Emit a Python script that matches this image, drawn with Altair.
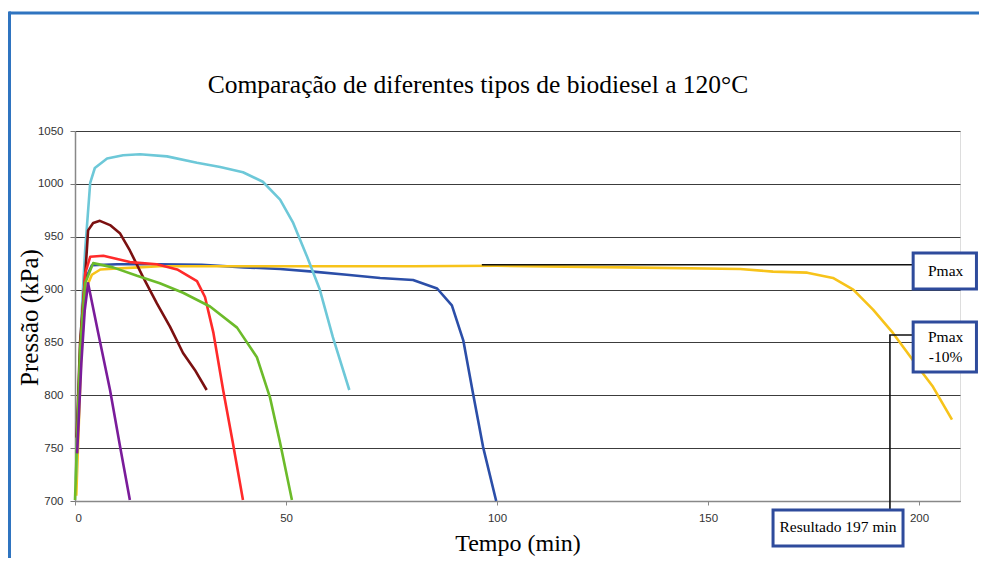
import altair as alt
import pandas as pd

# ---- series (time in min, pressure in kPa) ----
cyan_t = [0.2, 0.8, 1.6, 2.4, 3.6, 4.7, 7.6, 11.4, 15.4, 21.8, 28.9, 34.4, 39.8, 44.5, 48.6, 51.7, 55.0, 58.0, 61.1, 65.0]
cyan_p = [720, 790, 880, 937, 1001, 1015, 1024, 1027, 1028, 1026, 1020, 1016, 1011, 1002, 985, 963, 931, 900, 855, 805]

maroon_t = [0.4, 1.2, 2.4, 3.1, 4.3, 5.9, 8.3, 10.7, 13.0, 16.1, 19.4, 22.5, 25.6, 28.4, 31.2]
maroon_p = [760, 850, 912, 956, 963, 965, 961, 953, 937, 912, 887, 865, 840, 824, 805]

red_t = [0.6, 1.5, 2.4, 3.6, 6.7, 10.0, 13.0, 19.4, 24.2, 28.9, 30.8, 32.8, 35.1, 37.4, 39.8]
red_p = [760, 860, 915, 931, 932, 929, 926, 924, 919, 908, 893, 859, 805, 755, 701]

blue_t = [0.5, 1.5, 2.5, 4.0, 10.0, 20.0, 30.0, 40.0, 48.6, 56.4, 64.4, 72.3, 80.1, 85.8, 89.3, 92.0, 94.3, 96.7, 99.8]
blue_p = [760, 860, 910, 923, 924, 924, 923.5, 921, 919.5, 917, 914, 911, 909, 901, 885, 852, 802, 751, 700]

yellow_t = [0.3, 1.5, 2.5, 4.0, 6.0, 10.0, 15.0, 20.0, 40.0, 80.0, 100.0, 130.0, 157.6, 165.4, 173.5, 179.6, 184.4, 189.1, 193.8, 198.6, 203.3, 207.8]
yellow_p = [705, 840, 900, 914, 919, 920, 921, 922, 922, 922, 922.5, 921, 919.5, 917, 916, 911, 900, 881, 859, 833, 808, 777]

green_t = [0.0, 1.2, 2.4, 4.3, 9.0, 14.7, 20.1, 25.6, 32.0, 38.4, 43.1, 46.2, 48.6, 51.4]
green_p = [701, 843, 906, 925, 921, 913, 906, 897, 884, 864, 836, 798, 755, 701]

purple_t = [0.5, 1.5, 2.3, 3.1, 5.5, 8.3, 10.7, 13.0]
purple_p = [745, 830, 880, 906, 859, 805, 751, 701]

series_names = ["Azul", "Amarelo", "Ciano", "Bordô", "Vermelho", "Verde", "Roxo"]
series_colors = ["#2B4EA8", "#F7C31A", "#6DC8D8", "#7B1010", "#FF2A2A", "#6CBB2A", "#7A1C9A"]
series_data = [(blue_t, blue_p), (yellow_t, yellow_p), (cyan_t, cyan_p), (maroon_t, maroon_p),
               (red_t, red_p), (green_t, green_p), (purple_t, purple_p)]

# ---- annotations ----
pmax_line_t = [96.4, 198.6]
pmax_line_p = [923.5, 923.5]
p10_line_t = [198.6, 193.1, 193.1]
p10_line_p = [857, 857, 691]

box_t1 = [198.6, 198.6, 165.4]
box_t2 = [213.6, 213.6, 196.2]
box_p1 = [900.5, 822.0, 657.4]
box_p2 = [934.6, 869.3, 691.5]
box_text = ["Pmax", "Pmax\n-10%", "Resultado 197 min"]
box_text_t = [206.3, 206.3, 180.8]
box_text_p = [917.6, 855.1, 675.4]

chart_title = "Comparação de diferentes tipos de biodiesel a 120°C"

x_ticks = [0, 50, 100, 150, 200]
y_ticks = [700, 750, 800, 850, 900, 950, 1000, 1050]

xscale = alt.Scale(domain=[0, 209.7], nice=False, zero=False)
yscale = alt.Scale(domain=[700, 1050], nice=False, zero=False)
cscale = alt.Scale(domain=series_names, range=series_colors)

xaxis = alt.Axis(values=x_ticks, format="d", grid=False, title="Tempo (min)", titleFont="Liberation Serif",
                 titleFontSize=24, titleFontWeight="normal", titleColor="#000000",
                 titleX=442.5, titleY=49, titleBaseline="alphabetic",
                 labelFont="Liberation Sans", labelFontSize=11.5, labelColor="#333333",
                 tickSize=4, tickColor="#888888", domainColor="#888888", domainWidth=1.5,
                 labelPadding=7)
yaxis = alt.Axis(values=y_ticks, format="d", grid=True, gridColor="#3c3c3c", gridWidth=1.2,
                 title="Pressão (kPa)", titleFont="Liberation Serif", titleFontSize=25,
                 titleFontWeight="normal", titleColor="#000000", titleX=-46, titleY=186,
                 titleBaseline="middle", labelFont="Liberation Sans", labelFontSize=11.5,
                 labelColor="#333333", tickSize=5, tickColor="#777777", domainColor="#888888",
                 domainWidth=1.5, labelPadding=7)

layers = []
for name, (ts, ps) in zip(series_names, series_data):
    df = pd.DataFrame({"t": ts, "p": ps, "serie": name, "ordem": range(len(ts))})
    layers.append(
        alt.Chart(df).mark_line(strokeWidth=2.6, strokeJoin="round").encode(
            x=alt.X("t:Q", scale=xscale, axis=xaxis),
            y=alt.Y("p:Q", scale=yscale, axis=yaxis),
            color=alt.Color("serie:N", scale=cscale, legend=None),
            order="ordem:Q",
        )
    )

pmax_df = pd.DataFrame({"t": pmax_line_t, "p": pmax_line_p, "ordem": range(2)})
p10_df = pd.DataFrame({"t": p10_line_t, "p": p10_line_p, "ordem": range(3)})
for d in (pmax_df, p10_df):
    layers.append(
        alt.Chart(d).mark_line(color="#111111", strokeWidth=1.6).encode(
            x=alt.X("t:Q", scale=xscale), y=alt.Y("p:Q", scale=yscale), order="ordem:Q"
        )
    )

box_df = pd.DataFrame({"t1": box_t1, "t2": box_t2, "p1": box_p1, "p2": box_p2})
layers.append(
    alt.Chart(box_df).mark_rect(fill="white", stroke="#2E4B9C", strokeWidth=3).encode(
        x=alt.X("t1:Q", scale=xscale), x2="t2:Q",
        y=alt.Y("p1:Q", scale=yscale), y2="p2:Q",
    )
)
text_df = pd.DataFrame({"t": box_text_t, "p": box_text_p, "txt": box_text})
layers.append(
    alt.Chart(text_df).mark_text(font="Liberation Serif", fontSize=15.5, color="#000000",
                                 lineBreak="\n", lineHeight=20, baseline="middle", align="center").encode(
        x=alt.X("t:Q", scale=xscale), y=alt.Y("p:Q", scale=yscale), text="txt:N"
    )
)

# chart title as text
layers.append(
    alt.Chart(pd.DataFrame({"txt": [chart_title]})).mark_text(
        font="Liberation Serif", fontSize=25.5, color="#000000", align="center", baseline="alphabetic"
    ).encode(x=alt.value(403), y=alt.value(-38), text="txt:N")
)

# outer blue frame (decoration)
layers.append(alt.Chart(pd.DataFrame({"a": [0]})).mark_rule(color="#2F74C0", strokeWidth=3).encode(
    x=alt.value(-66), x2=alt.value(904), y=alt.value(-118)))
layers.append(alt.Chart(pd.DataFrame({"a": [0]})).mark_rule(color="#2F74C0", strokeWidth=3).encode(
    x=alt.value(-65.5), y=alt.value(-119.5), y2=alt.value(440)))

chart = alt.layer(*layers).properties(
    width=885, height=370,
    autosize=alt.AutoSizeParams(type="none"),
    padding={"left": 67, "top": 123, "right": 19, "bottom": 57},
).configure_view(stroke="#999999", strokeWidth=1).configure(background="white")

chart.save("out.html", embed_options={"renderer": "svg", "actions": False})
